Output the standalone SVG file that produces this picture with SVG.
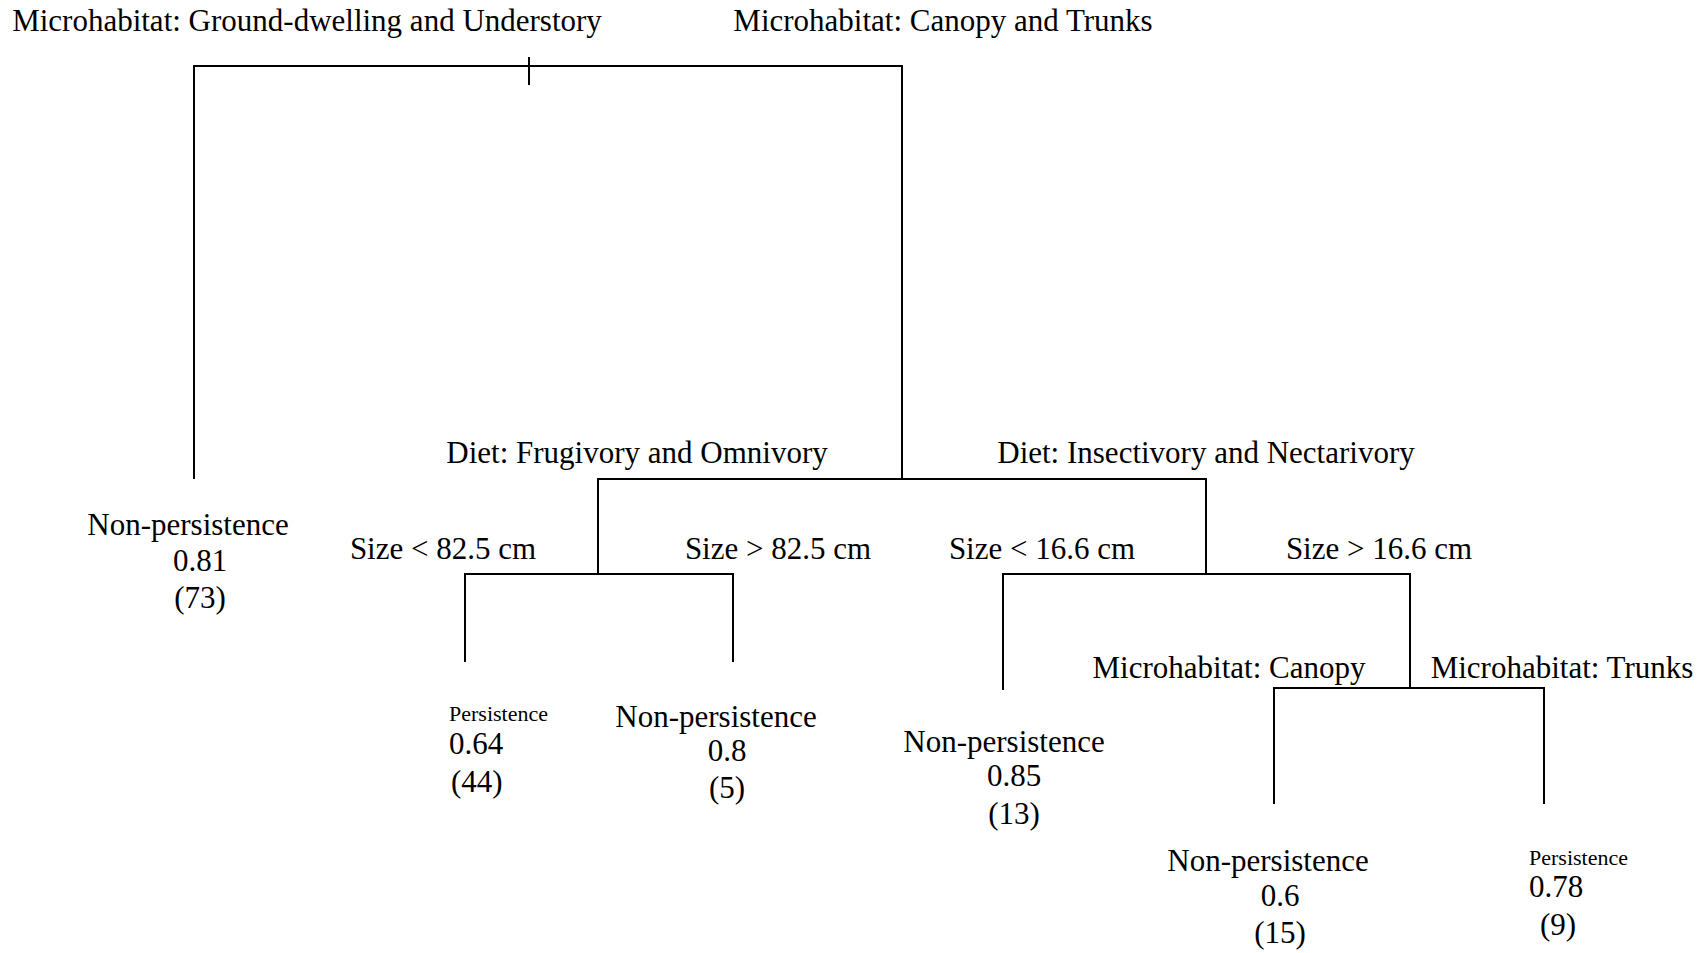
<svg xmlns="http://www.w3.org/2000/svg" width="1708" height="953" viewBox="0 0 1708 953">
<style>
text{font-family:"Liberation Serif","Times New Roman",serif;font-size:31px;fill:#000}
.m{text-anchor:middle}
.s{font-size:22px}
.e{fill:none;stroke:#000;stroke-width:2}
</style>
<rect width="1708" height="953" fill="#fff"/>
<g id="connectors" class="e">
<path d="M194,479V66H902V479"/>
<path d="M529,57V85"/>
<path d="M598,574V479H1206V574"/>
<path d="M465,662V574H733V662"/>
<path d="M1003,690V574H1410V688"/>
<path d="M1274,804V688H1544V804"/>
</g>
<g transform="translate(0,2)">
<g id="root">
<text class="m" x="307" y="29">Microhabitat: Ground-dwelling and Understory</text>
<text class="m" x="943" y="29">Microhabitat: Canopy and Trunks</text>
</g>
<g id="diet">
<text class="m" x="637" y="461">Diet: Frugivory and Omnivory</text>
<text class="m" x="1206" y="461">Diet: Insectivory and Nectarivory</text>
</g>
<g id="size-split-1">
<text class="m" x="443" y="557">Size &lt; 82.5 cm</text>
<text class="m" x="778" y="557">Size &gt; 82.5 cm</text>
</g>
<g id="size-split-2">
<text class="m" x="1042" y="557">Size &lt; 16.6 cm</text>
<text class="m" x="1379" y="557">Size &gt; 16.6 cm</text>
</g>
<g id="micro-split">
<text class="m" x="1229" y="676">Microhabitat: Canopy</text>
<text class="m" x="1562" y="676">Microhabitat: Trunks</text>
</g>
<g id="leaf-73">
<text class="m" x="188" y="533">Non-persistence</text>
<text class="m" x="200" y="569">0.81</text>
<text class="m" x="200" y="606">(73)</text>
</g>
<g id="leaf-44">
<text class="s" x="449" y="719">Persistence</text>
<text x="449" y="752">0.64</text>
<text x="451" y="790">(44)</text>
</g>
<g id="leaf-5">
<text class="m" x="716" y="725">Non-persistence</text>
<text class="m" x="727" y="759">0.8</text>
<text class="m" x="727" y="796">(5)</text>
</g>
<g id="leaf-13">
<text class="m" x="1004" y="750">Non-persistence</text>
<text class="m" x="1014" y="784">0.85</text>
<text class="m" x="1014" y="822">(13)</text>
</g>
<g id="leaf-15">
<text class="m" x="1268" y="869">Non-persistence</text>
<text class="m" x="1280" y="904">0.6</text>
<text class="m" x="1280" y="941">(15)</text>
</g>
<g id="leaf-9">
<text class="s" x="1529" y="863">Persistence</text>
<text x="1529" y="895">0.78</text>
<text x="1540" y="933">(9)</text>
</g>
</g>
</svg>
